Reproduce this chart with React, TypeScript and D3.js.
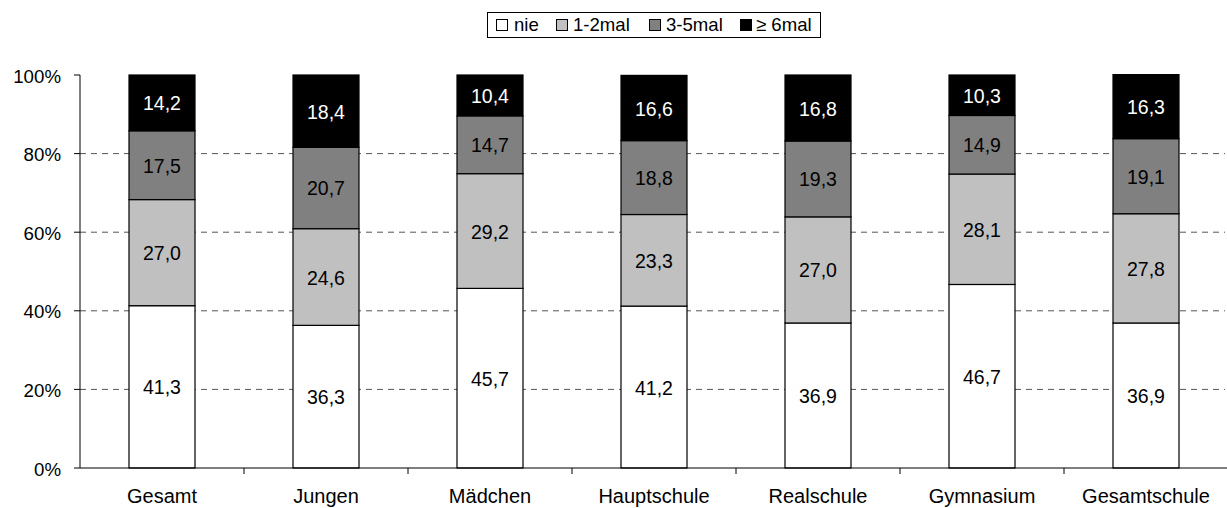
import React from "react";
import * as d3 from "d3";

const categories = ["Gesamt", "Jungen", "Mädchen", "Hauptschule", "Realschule", "Gymnasium", "Gesamtschule"];
const seriesNames = ["nie", "1-2mal", "3-5mal", "≥ 6mal"];
const nie = [41.3, 36.3, 45.7, 41.2, 36.9, 46.7, 36.9];
const mal12 = [27.0, 24.6, 29.2, 23.3, 27.0, 28.1, 27.8];
const mal35 = [17.5, 20.7, 14.7, 18.8, 19.3, 14.9, 19.1];
const mal6 = [14.2, 18.4, 10.4, 16.6, 16.8, 10.3, 16.3];
const yTicks = [0, 20, 40, 60, 80, 100];

const colors = ["#ffffff", "#c0c0c0", "#808080", "#000000"];
const labelColors = ["#000", "#000", "#000", "#fff"];

export default function App() {
  const W = 1227, H = 508;
  const left = 80, right = 1228, top = 75, bottom = 468;
  const y = d3.scaleLinear().domain([0, 100]).range([bottom, top]);
  const x = d3.scaleBand().domain(categories).range([left, right]);
  const series = [nie, mal12, mal35, mal6];
  const rows = categories.map((c, i) => ({ cat: c, s0: nie[i], s1: mal12[i], s2: mal35[i], s3: mal6[i] }));
  const stack = d3.stack<any>().keys(["s0", "s1", "s2", "s3"])(rows);
  const step = x.step();
  const bw = 66;
  const fmt = (v: number) => v.toFixed(1).replace(".", ",");
  const font = "'Liberation Sans', Arial, sans-serif";

  const legendItems = [
    { sx: 496, tx: 514, label: seriesNames[0] },
    { sx: 556, tx: 573, label: seriesNames[1] },
    { sx: 649, tx: 666, label: seriesNames[2] },
    { sx: 740, tx: 756, label: seriesNames[3] },
  ];

  return (
    <svg width={W} height={H} style={{ position: "absolute", left: 0, top: 0, fontFamily: font }}>
      <rect x={0} y={0} width={W} height={H} fill="#fff" />
      {yTicks.filter(t => t > 0 && t < 100).map(t => (
        <line key={t} x1={left} x2={1225} y1={y(t)} y2={y(t)} stroke="#555" strokeWidth={1} strokeDasharray="6,5" />
      ))}
      {stack.map((layer, si) => layer.map((d, i) => {
        const cx = (x(categories[i]) as number) + step / 2;
        const y0 = y(d[0]), y1 = y(d[1]);
        return (
          <g key={`${si}-${i}`}>
            <rect x={cx - bw / 2} y={y1} width={bw} height={y0 - y1} fill={colors[si]} stroke="#000" strokeWidth={1.2} />
            <text x={cx} y={(y0 + y1) / 2 + 7.5} textAnchor="middle" fontSize={19.5} fill={labelColors[si]}>{fmt(series[si][i])}</text>
          </g>
        );
      }))}
      <line x1={left} x2={left} y1={top} y2={bottom} stroke="#000" />
      <line x1={left} x2={right} y1={bottom} y2={bottom} stroke="#000" />
      {yTicks.map(t => (
        <g key={t}>
          <line x1={left - 6} x2={left} y1={y(t)} y2={y(t)} stroke="#000" />
          <text x={61} y={y(t) + 7.5} textAnchor="end" fontSize={18.7} fill="#000">{t}%</text>
        </g>
      ))}
      {categories.map((c, i) => (
        <g key={c}>
          <line x1={left + step * (i + 1)} x2={left + step * (i + 1)} y1={bottom} y2={bottom + 6} stroke="#000" />
          <text x={(x(c) as number) + step / 2} y={503} textAnchor="middle" fontSize={20} fill="#000">{c}</text>
        </g>
      ))}
      <rect x={487.5} y={12.5} width={333} height={25} fill="#fff" stroke="#000" />
      {legendItems.map((l, i) => (
        <g key={l.label}>
          <rect x={l.sx + 0.5} y={19.5} width={11} height={11} fill={colors[i]} stroke="#000" />
          <text x={l.tx} y={31} fontSize={18.6} fill="#000">{l.label}</text>
        </g>
      ))}
    </svg>
  );
}
